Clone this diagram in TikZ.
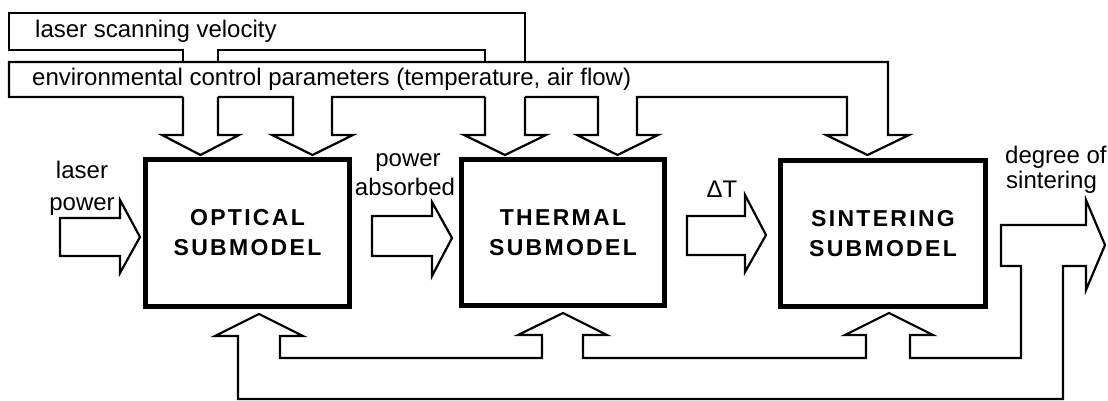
\documentclass[tikz,border=0pt]{standalone}
\usepackage{fontspec}
\setmainfont{Liberation Sans}
\newfontfamily\boxfont[LetterSpace=10]{Liberation Sans Bold}
\begin{document}
\begin{tikzpicture}[x=1pt,y=-1pt,line join=miter,
  pipe/.style={draw,line width=2.2pt},
  sub/.style={draw,line width=5pt,minimum width=204pt,minimum height=147pt,inner sep=0pt,align=center,font=\boxfont\fontsize{23}{30}\selectfont},
  lbl/.style={inner sep=0pt,font=\fontsize{24}{30}\selectfont}]
\useasboundingbox (0,0) rectangle (1108,401);

% submodel boxes
\node[sub] (opt) at (247.5,233) {OPTICAL\\SUBMODEL};
\node[sub,minimum width=203pt,minimum height=146pt] (thr) at (563,232.5) {THERMAL\\SUBMODEL};
\node[sub,minimum width=205pt,minimum height=146pt] (sin) at (883,233.5) {SINTERING\\SUBMODEL};

% labels
\node[lbl,anchor=base west] (lsv) at (35,38) {laser scanning velocity};
\node[lbl,anchor=base west] (ecp) at (32,86) {environmental control parameters (temperature, air flow)};
\node[lbl,anchor=base] (lp1) at (82,178) {laser};
\node[lbl,anchor=base] (lp2) at (82,210) {power};
\node[lbl,anchor=base] (pa1) at (408,167) {power};
\node[lbl,anchor=base] (pa2) at (405,195) {absorbed};
\node[lbl,anchor=base] (dt) at (722,197) {ΔT};
\node[lbl,anchor=base west] (ds1) at (1005,163) {degree of};
\node[lbl,anchor=base west] (ds2) at (1006,188) {sintering};

% laser scanning velocity pipe
\draw[pipe] (183,62) -- (183,50) -- (9,50) -- (9,13) -- (525,13) -- (525,62);
\draw[pipe] (218,62) -- (218,50) -- (485,50) -- (485,62);
\draw[pipe] (183,97) -- (183,135) -- (162,135) -- (200.5,155) -- (239,135) -- (218,135) -- (218,97);
\draw[pipe] (485,97) -- (485,135) -- (464,135) -- (505,155) -- (546,135) -- (525,135) -- (525,97);

% environmental control pipe
\draw[pipe] (525,97) -- (598,97) -- (598,135) -- (577,135) -- (617.5,155) -- (658,135) -- (637,135) -- (637,97)
  -- (847,97) -- (847,135) -- (826,135) -- (867.5,155) -- (909,135) -- (888,135) -- (888,62) -- (9,62) -- (9,97) -- (183,97);
\draw[pipe] (218,97) -- (293,97) -- (293,135) -- (272,135) -- (312.5,155) -- (353,135) -- (332,135) -- (332,97) -- (485,97);

% input / transfer arrows
\draw[pipe] (60,218) -- (120,218) -- (120,200) -- (140,237) -- (120,273) -- (120,256) -- (60,256) -- cycle;
\draw[pipe] (372,216) -- (432,216) -- (432,202) -- (452,238) -- (432,276) -- (432,256) -- (372,256) -- cycle;
\draw[pipe] (687,216) -- (745,216) -- (745,195) -- (766,235) -- (745,272) -- (745,255) -- (687,255) -- cycle;

% output and feedback pipe
\draw[pipe] (238,336) -- (238,399) -- (1063,399) -- (1063,266) -- (1086,266) -- (1086,290) -- (1105,245)
  -- (1086,200) -- (1086,225) -- (1001,225) -- (1001,266) -- (1021,266) -- (1021,358) -- (910,358)
  -- (910,335) -- (933,335) -- (889,313) -- (845,335) -- (866,335) -- (866,358) -- (583,358)
  -- (583,335) -- (607,335) -- (563,313) -- (518,335) -- (542,335) -- (542,358) -- (280,358)
  -- (280,336) -- (303,336) -- (259,314) -- (215,336) -- cycle;
\end{tikzpicture}
\end{document}
